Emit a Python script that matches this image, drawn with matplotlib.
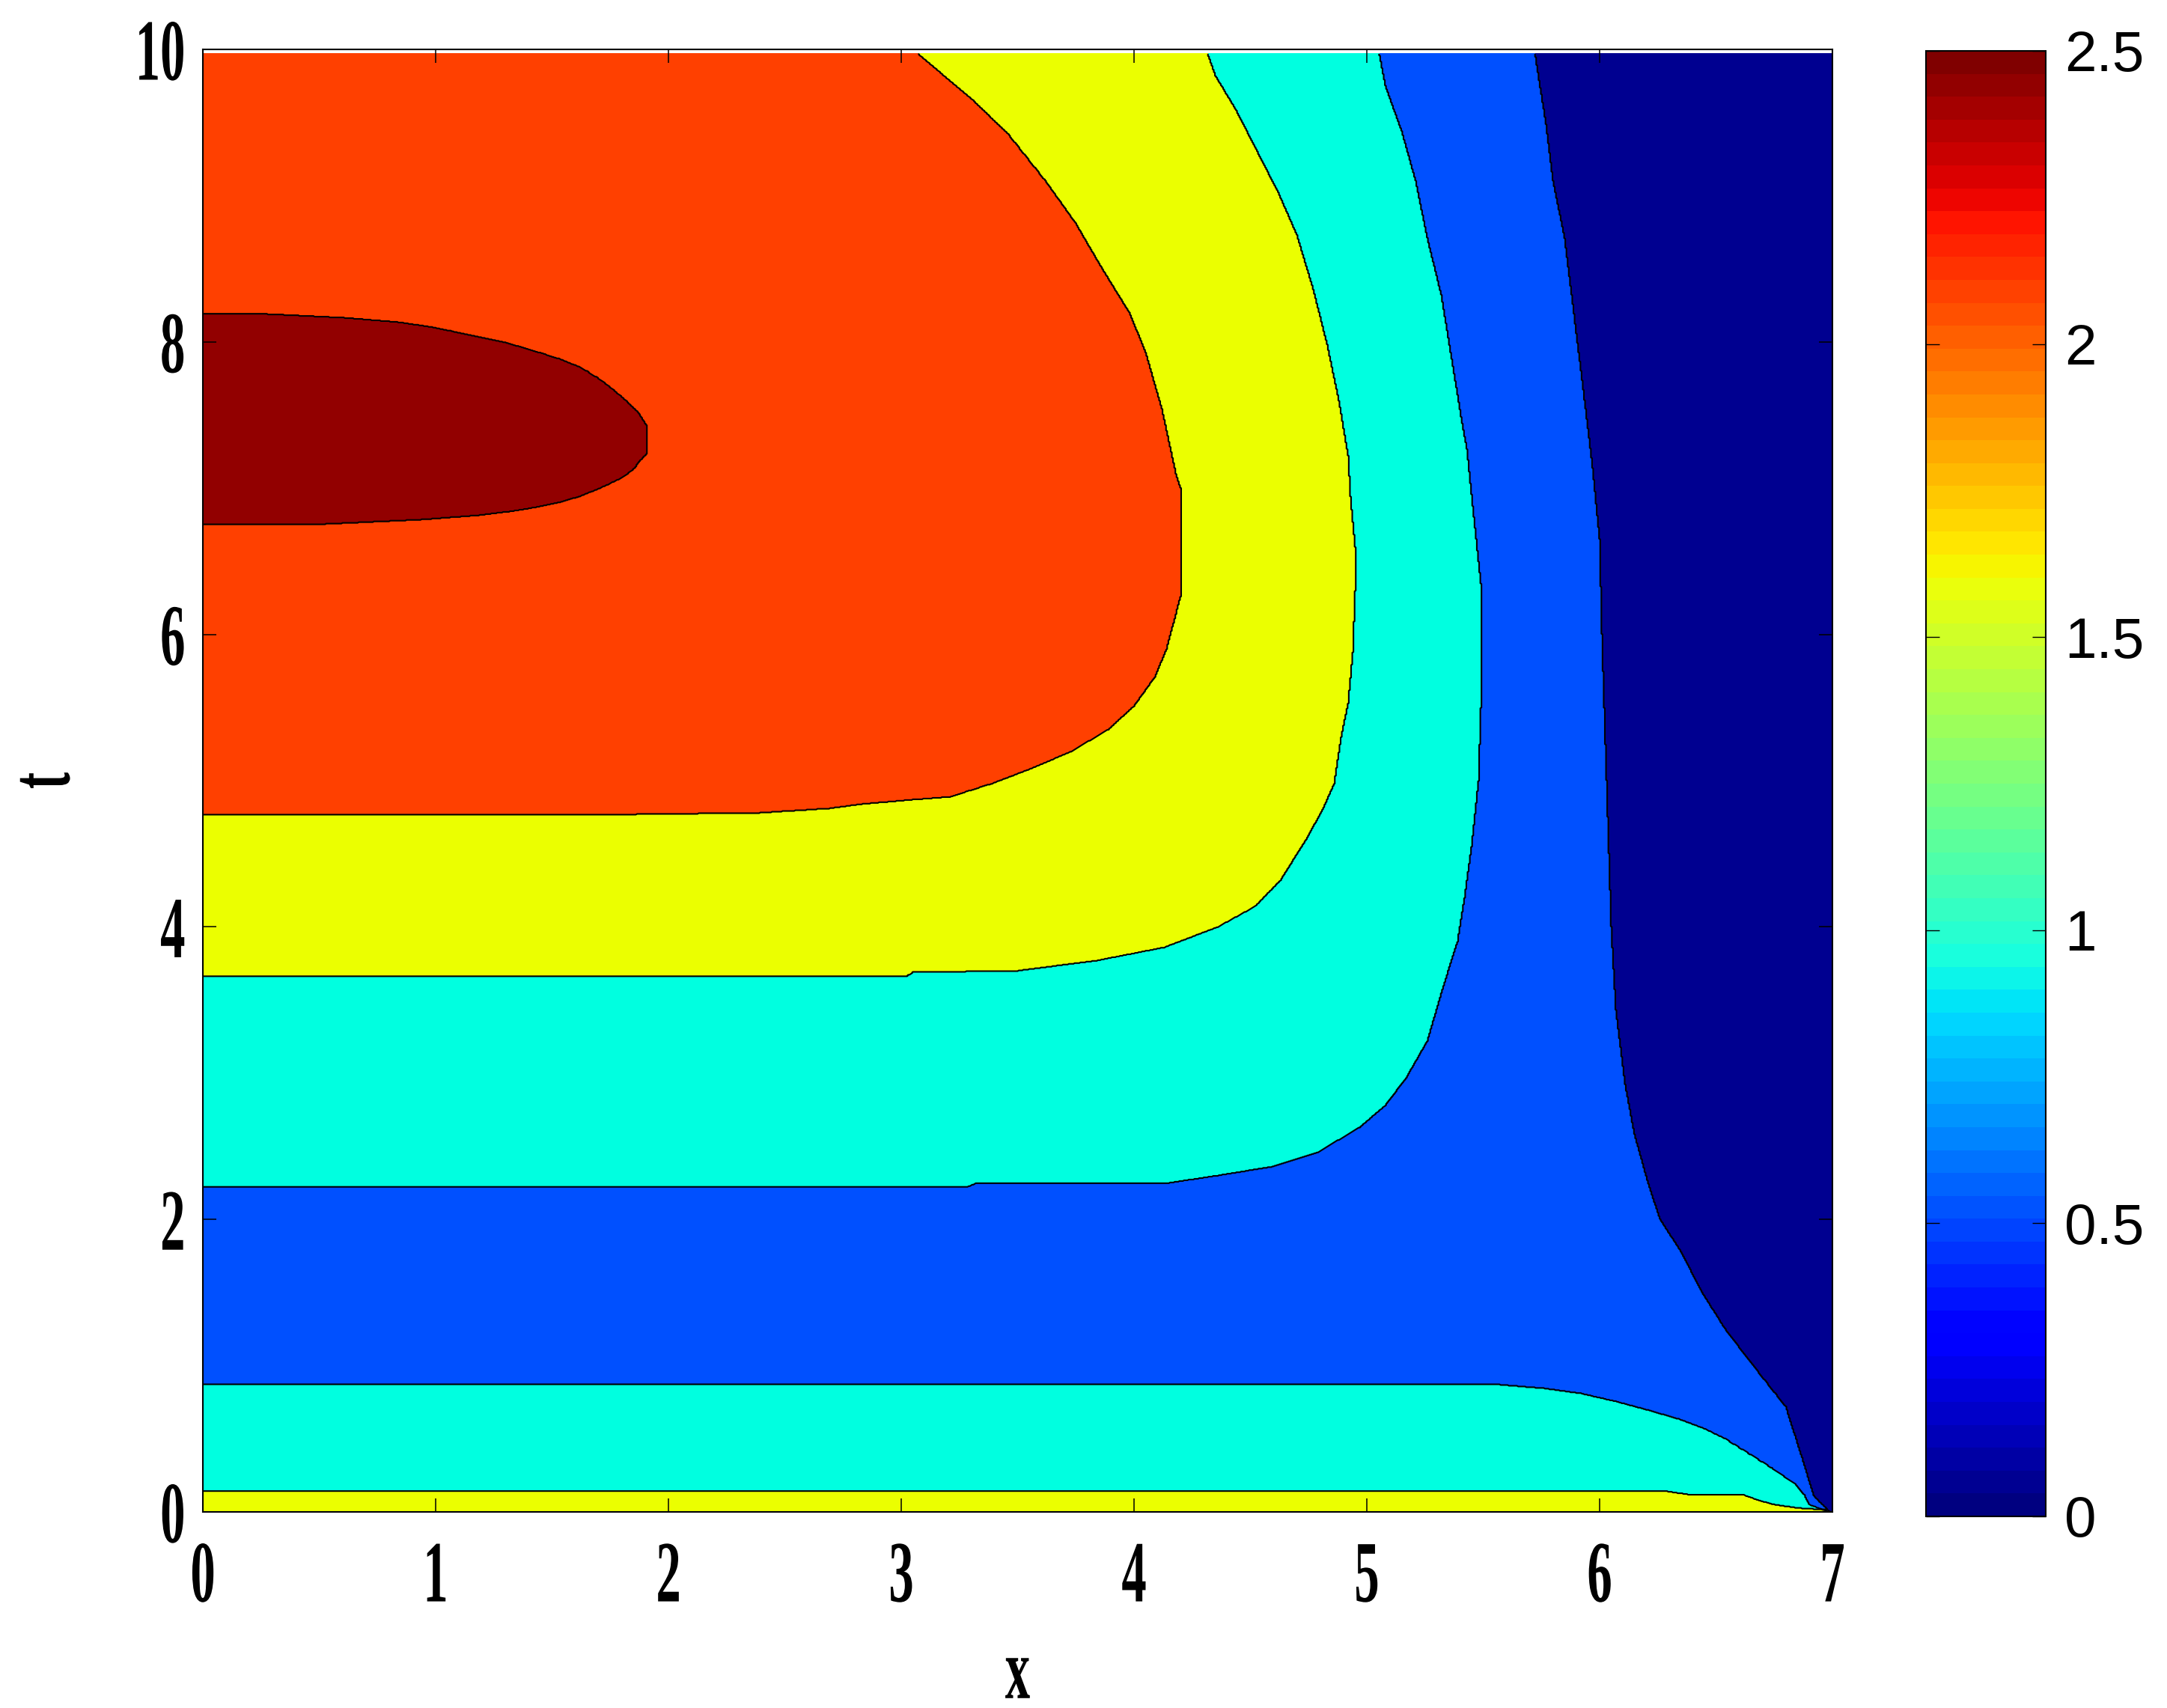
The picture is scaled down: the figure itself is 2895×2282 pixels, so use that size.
import numpy as np
import matplotlib
matplotlib.use('Agg')
import matplotlib.pyplot as plt
from matplotlib.path import Path
from matplotlib.patheffects import AbstractPathEffect
from matplotlib.transforms import Affine2D
from matplotlib.colors import Normalize
from matplotlib.cm import ScalarMappable

# contour levels and the fill colour of each band (colour of its lower level)
levels = [0.0, 0.5, 1.0, 1.5, 2.0, 2.5, 3.0]
band_colors = ['#000090', '#0050ff', '#00ffe0', '#ebff00', '#ff4000', '#920000']

# u = 0.5 contour, x position against t (dark blue lies to the right)
c05_t = [0.0, 0.03, 0.11, 0.37, 0.72, 1.0, 1.25, 1.5, 1.78, 2.0, 2.24, 2.58, 2.92,
         3.43, 4.0, 5.0, 6.0, 6.65, 7.14, 7.54, 7.93, 8.32, 8.71, 9.10, 9.49, 9.79, 10.0]
c05_x = [6.99, 6.97, 6.92, 6.87, 6.80, 6.66, 6.54, 6.44, 6.35, 6.26, 6.21, 6.15, 6.11,
         6.07, 6.05, 6.03, 6.01, 6.00, 5.97, 5.94, 5.91, 5.88, 5.85, 5.80, 5.77, 5.74, 5.72]

# u = 1.0 contour, lower branch (cyan strip along the bottom)
c10_low_x = [0.0, 5.57, 5.76, 5.92, 6.07, 6.20, 6.34, 6.45, 6.54, 6.65, 6.74, 6.84,
             6.88, 6.90, 6.95, 6.98]
c10_low_t = [0.87, 0.87, 0.845, 0.81, 0.755, 0.70, 0.635, 0.57, 0.50, 0.39, 0.30, 0.19,
             0.115, 0.05, 0.02, 0.0]

# u = 1.0 contour, upper branch
c10_up_x = [0.0, 3.28, 3.32, 4.13, 4.36, 4.59, 4.79, 4.97, 5.08, 5.17, 5.26, 5.33, 5.39,
            5.42, 5.45, 5.48, 5.49, 5.49, 5.46, 5.43, 5.41, 5.36, 5.32, 5.26, 5.21, 5.15,
            5.08, 5.05]
c10_up_t = [2.22, 2.22, 2.245, 2.245, 2.30, 2.36, 2.46, 2.63, 2.78, 2.97, 3.22, 3.60, 3.90,
            4.20, 4.55, 5.00, 5.50, 6.35, 6.80, 7.27, 7.44, 7.93, 8.32, 8.71, 9.10, 9.44,
            9.75, 10.0]

# u = 1.5 contour, lower branch (thin yellow strip at t = 0)
c15_low_x = [0.0, 6.29, 6.40, 6.62, 6.67, 6.74, 6.85, 6.97, 6.975]
c15_low_t = [0.14, 0.14, 0.115, 0.115, 0.087, 0.053, 0.027, 0.015, 0.0]

# u = 1.5 contour, upper branch
c15_up_x = [0.0, 3.02, 3.05, 3.50, 3.84, 4.13, 4.36, 4.52, 4.63, 4.74, 4.81, 4.86, 4.89,
            4.92, 4.94, 4.95, 4.95, 4.93, 4.92, 4.88, 4.83, 4.77, 4.70, 4.62, 4.53, 4.44,
            4.35, 4.31]
c15_up_t = [3.66, 3.66, 3.69, 3.70, 3.77, 3.86, 4.00, 4.14, 4.32, 4.60, 4.80, 4.98, 5.30,
            5.53, 5.88, 6.30, 6.60, 6.94, 7.22, 7.60, 7.98, 8.36, 8.73, 9.02, 9.30, 9.58,
            9.82, 10.0]

# u = 2.0 contour
c20_x = [0.0, 1.86, 2.39, 2.69, 2.83, 3.05, 3.21, 3.39, 3.57, 3.73, 3.89, 4.00, 4.09, 4.14,
         4.17, 4.20, 4.20, 4.18, 4.12, 4.05, 3.98, 3.86, 3.75, 3.62, 3.46, 3.31, 3.05]
c20_t = [4.77, 4.77, 4.78, 4.81, 4.84, 4.87, 4.89, 4.98, 5.09, 5.20, 5.35, 5.51, 5.71, 5.90,
         6.08, 6.26, 7.00, 7.10, 7.54, 7.93, 8.20, 8.51, 8.81, 9.10, 9.42, 9.65, 10.0]

# u = 2.5 contour (closed tongue on the left), upper and lower halves
c25_top_x = [0.0, 0.28, 0.61, 0.84, 0.99, 1.17, 1.29, 1.42, 1.54, 1.63, 1.70, 1.75, 1.81,
             1.87, 1.91]
c25_top_t = [8.19, 8.19, 8.165, 8.135, 8.10, 8.04, 8.00, 7.94, 7.88, 7.82, 7.75, 7.69, 7.61,
             7.52, 7.42]
c25_bot_x = [0.0, 0.46, 0.94, 1.19, 1.34, 1.45, 1.55, 1.63, 1.72, 1.80, 1.85, 1.88, 1.91]
c25_bot_t = [6.75, 6.75, 6.785, 6.815, 6.845, 6.875, 6.91, 6.95, 7.01, 7.07, 7.13, 7.19, 7.24]

x_ticks = [0, 1, 2, 3, 4, 5, 6, 7]
t_ticks = [0, 2, 4, 6, 8, 10]
cbar_ticks = [0, 0.5, 1, 1.5, 2, 2.5]
t_end = 9.97


class Tall(AbstractPathEffect):
    # draws the glyphs stretched along their height, like the narrow font of the original
    def __init__(self, sy=1.75, cy=34):
        super().__init__()
        self.st = Affine2D().translate(0, -cy).scale(1, sy).translate(0, cy)

    def draw_path(self, renderer, gc, tpath, affine, rgbFace=None):
        renderer.draw_path(gc, tpath, self.st + affine, rgbFace)


def left_of(xs, ts):
    v = [(-1, -1), (xs[0], -1)] + list(zip(xs, ts)) + [(xs[-1], 11), (-1, 11)]
    return Path(v)


def below(xs, ts):
    v = [(-1, -1), (xs[-1], -1)] + list(zip(xs, ts))[::-1] + [(-1, ts[0])]
    return Path(v)


def above(xs, ts):
    v = [(-1, ts[0])] + list(zip(xs, ts)) + [(xs[-1], 11), (-1, 11)]
    return Path(v)


def tongue(xt, tt, xb, tb):
    v = [(-1, tt[0])] + list(zip(xt, tt)) + list(zip(xb, tb))[::-1] + [(-1, tb[0])]
    return Path(v)


regions = [
    left_of(c05_x, c05_t),
    below(c10_low_x, c10_low_t),
    above(c10_up_x, c10_up_t),
    below(c15_low_x, c15_low_t),
    above(c15_up_x, c15_up_t),
    above(c20_x, c20_t),
    tongue(c25_top_x, c25_top_t, c25_bot_x, c25_bot_t),
]

xg = np.linspace(0, 7, 1401)
tg = np.linspace(0, t_end, 1995)
X, T = np.meshgrid(xg, tg)
pts = np.column_stack([X.ravel(), T.ravel()])
U = np.full(pts.shape[0], 0.25)
for reg in regions:
    U += 0.5 * reg.contains_points(pts)
U = U.reshape(X.shape)

plt.rcParams['font.family'] = 'Liberation Serif'

fig = plt.figure(figsize=(28.95, 22.82), dpi=100)
ax = fig.add_axes([271 / 2895, 1 - 2020 / 2282, 2177 / 2895, 1954 / 2282])

ax.contourf(X, T, U, levels=levels, colors=band_colors)
ax.contour(X, T, U, levels=levels[1:-1], colors='k', linewidths=1.5)

ax.set_xlim(0, 7)
ax.set_ylim(0, 10)
ax.set_xticks(x_ticks, [str(v) for v in x_ticks])
ax.set_yticks(t_ticks, [str(v) for v in t_ticks])
ax.tick_params(direction='in', length=13, width=1.1, top=True, right=True,
               labelsize=48)
ax.tick_params(axis='x', pad=40)
ax.tick_params(axis='y', pad=17)
for tk in ax.xaxis.get_major_ticks() + ax.yaxis.get_major_ticks():
    tk.label1.set_fontweight('bold')
    tk.label1.set_path_effects([Tall()])
for sp in ax.spines.values():
    sp.set_linewidth(1.5)

ax.set_xlabel('x', fontsize=48, fontweight='bold')
ax.xaxis.set_label_coords(0.5, -0.113)
ax.xaxis.label.set_va('center')
ax.xaxis.label.set_path_effects([Tall(cy=23)])
ax.set_ylabel('t', fontsize=48, fontweight='bold')
ax.yaxis.set_label_coords(-0.0965, 0.5)
ax.yaxis.label.set_va('center')
ax.yaxis.label.set_path_effects([Tall(cy=30)])

# colorbar: 64-step jet from 0 to 2.5
cax = fig.add_axes([2573 / 2895, 1 - 2026 / 2282, 160 / 2895, 1958 / 2282])
sm = ScalarMappable(norm=Normalize(0, 2.5), cmap=plt.get_cmap('jet', 64))
cb = fig.colorbar(sm, cax=cax, ticks=cbar_ticks)
cb.outline.set_linewidth(1.5)
cax.set_yticklabels(['0', '0.5', '1', '1.5', '2', '2.5'])
cax.yaxis.set_ticks_position('both')
cax.tick_params(direction='in', length=13, width=1.0, left=True, right=True,
                labelleft=False, labelright=True, labelsize=55, pad=18)
for lab in cax.get_yticklabels():
    lab.set_fontfamily('Liberation Sans')

fig.savefig('out.png', dpi=100)
